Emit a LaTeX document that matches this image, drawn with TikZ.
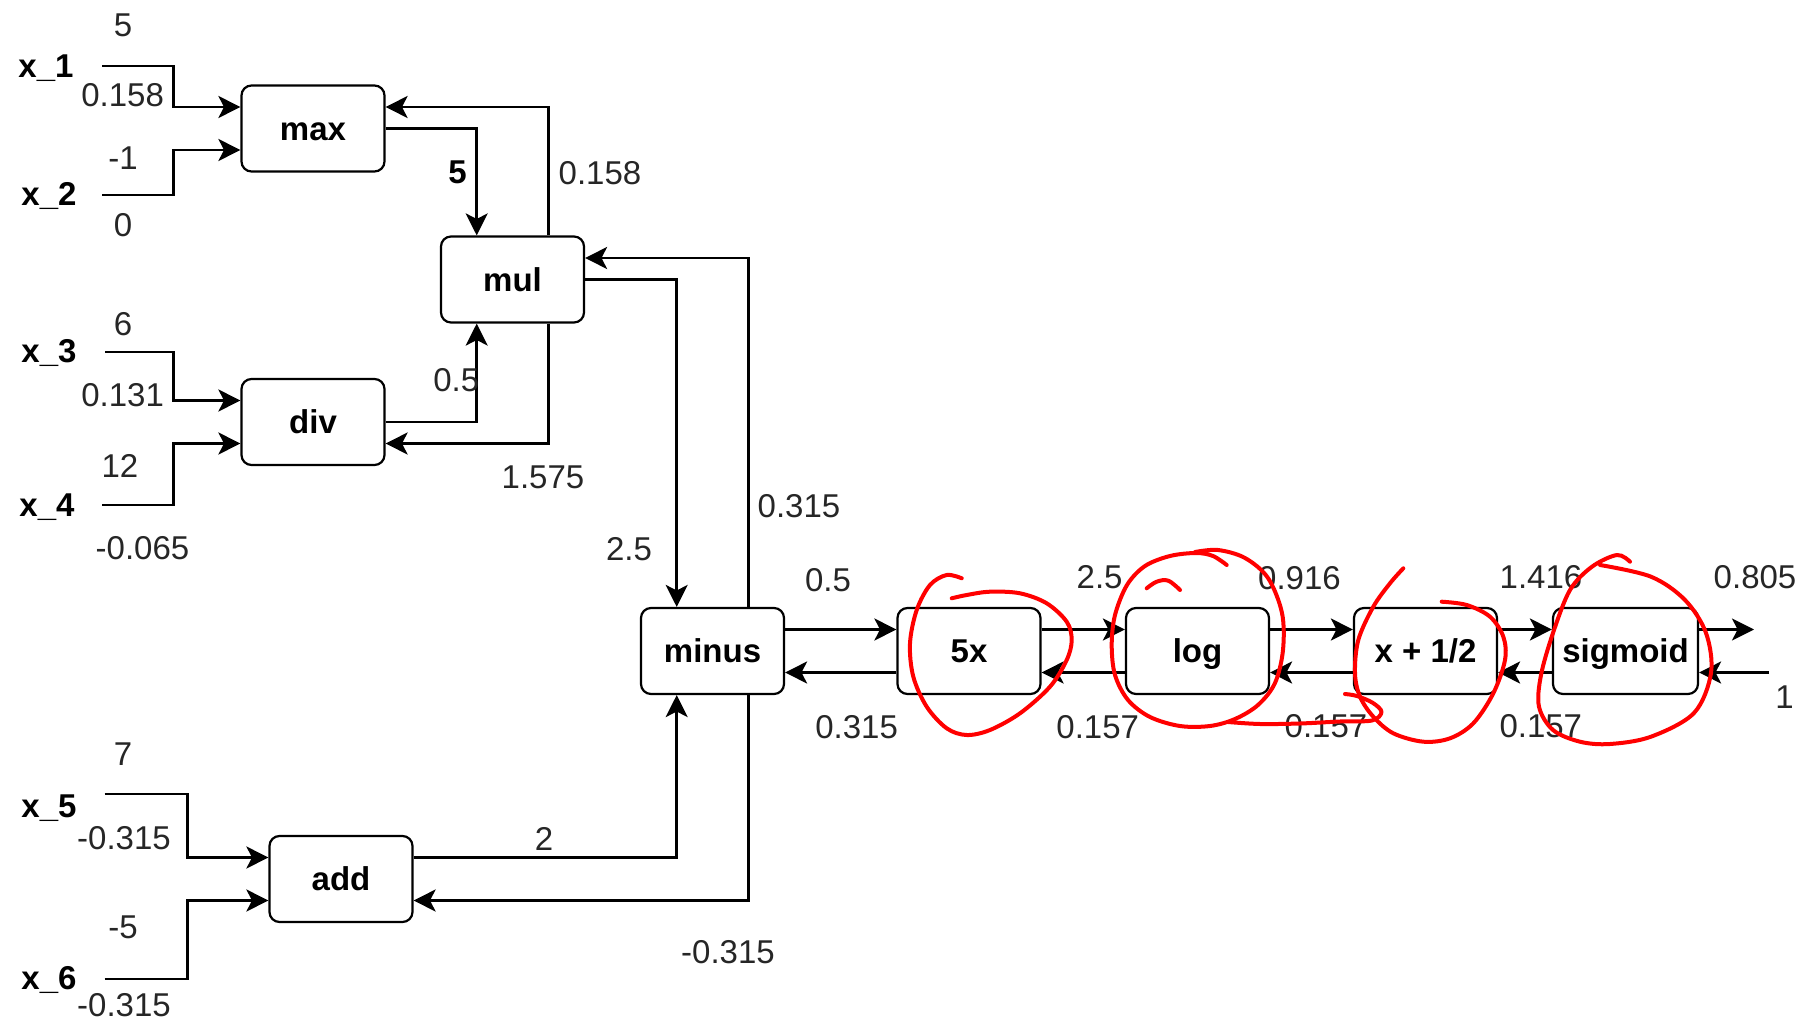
\documentclass[tikz,border=0pt]{standalone}
\usepackage{fontspec}
\setmainfont{Liberation Sans}
\usetikzlibrary{arrows.meta,calc}
\begin{document}
\begin{tikzpicture}[x=0.5pt,y=-0.5pt,
  box/.style={draw, line width=1.1pt, rounded corners=5pt, minimum width=71.5pt, minimum height=43pt, inner sep=0pt, text height=11.8pt, text depth=0pt, font=\fontsize{16.5pt}{19.8pt}\selectfont\bfseries},
  num/.style={inner sep=0pt, text height=11.8pt, text depth=0pt, font=\fontsize{16.5pt}{19.8pt}\selectfont, text=black!85},
  var/.style={inner sep=0pt, text height=11.8pt, text depth=0pt, font=\fontsize{16.5pt}{19.8pt}\selectfont\bfseries, text=black},
  conn/.style={line width=1.3pt, -{Stealth[length=11pt,width=11pt,inset=2.8pt]}},
  ink/.style={red, line width=2pt, line cap=round, line join=round}
]
\useasboundingbox (0,0) rectangle (1816,1022);

% boxes
\node[box] (max) at (313,128.5) {max};
\node[box] (mul) at (512.5,279.5) {mul};
\node[box] (div) at (313,422) {div};
\node[box] (minus) at (712.5,651) {minus};
\node[box] (add) at (341,879) {add};
\node[box] (fivex) at (969,651) {5x};
\node[box] (log) at (1197.5,651) {log};
\node[box] (xhalf) at (1425.5,651) {x + 1/2};
\node[box, minimum width=72.5pt] (sig) at (1625.5,651) {sigmoid};

% input variables
\node[var] (vx1) at (46,66) {x\_1};
\node[var] (vx2) at (49,194) {x\_2};
\node[var] (vx3) at (49,351) {x\_3};
\node[var] (vx4) at (47,505) {x\_4};
\node[var] (vx5) at (49,806) {x\_5};
\node[var] (vx6) at (49,978) {x\_6};

\coordinate (s1) at (102,66);
\coordinate (s2) at (102,195);
\coordinate (s3) at (105,352);
\coordinate (s4) at (102,505);
\coordinate (s5) at (104.5,794);
\coordinate (s6) at (104.5,979);
\coordinate (out) at (1754,629.5);
\coordinate (inp) at (1769,672.5);

% input connectors
\draw[conn] (s1) -- ++(71.5,0) |- ([yshift=10.75pt]max.west);
\draw[conn] (s2) -- ++(71.5,0) |- ([yshift=-10.75pt]max.west);
\draw[conn] (s3) -- ++(68.5,0) |- ([yshift=10.75pt]div.west);
\draw[conn] (s4) -- ++(71.5,0) |- ([yshift=-10.75pt]div.west);
\draw[conn] (s5) -- ++(83,0) |- ([yshift=10.75pt]add.west);
\draw[conn] (s6) -- ++(83,0) |- ([yshift=-10.75pt]add.west);

% upper network
\draw[conn] (max.east) -| ([xshift=-17.9pt]mul.north);
\draw[conn] ([xshift=17.9pt]mul.north) |- ([yshift=10.75pt]max.east);
\draw[conn] (div.east) -| ([xshift=-17.9pt]mul.south);
\draw[conn] ([xshift=17.9pt]mul.south) |- ([yshift=-10.75pt]div.east);
\draw[conn] (mul.east) -| ([xshift=-17.9pt]minus.north);
\draw[conn] ([xshift=17.9pt]minus.north) |- ([yshift=10.75pt]mul.east);
\draw[conn] ([yshift=10.75pt]add.east) -| ([xshift=-17.9pt]minus.south);
\draw[conn] ([xshift=17.9pt]minus.south) |- ([yshift=-10.75pt]add.east);

% chain
\draw[conn] ([yshift=10.75pt]minus.east) -- ([yshift=10.75pt]fivex.west);
\draw[conn] ([yshift=-10.75pt]fivex.west) -- ([yshift=-10.75pt]minus.east);
\draw[conn] ([yshift=10.75pt]fivex.east) -- ([yshift=10.75pt]log.west);
\draw[conn] ([yshift=-10.75pt]log.west) -- ([yshift=-10.75pt]fivex.east);
\draw[conn] ([yshift=10.75pt]log.east) -- ([yshift=10.75pt]xhalf.west);
\draw[conn] ([yshift=-10.75pt]xhalf.west) -- ([yshift=-10.75pt]log.east);
\draw[conn] ([yshift=10.75pt]xhalf.east) -- ([yshift=10.75pt]sig.west);
\draw[conn] ([yshift=-10.75pt]sig.west) -- ([yshift=-10.75pt]xhalf.east);
\draw[conn] ([yshift=10.75pt]sig.east) -- (out);
\draw[conn] (inp) -- ([yshift=-10.75pt]sig.east);

% numeric labels
\node[num] (n1) at (123,25) {5};
\node[num] (n2) at (122.6,95) {0.158};
\node[num] (n3) at (123,158) {-1};
\node[num] (n4) at (123,225) {0};
\node[num] (n5) at (123,324) {6};
\node[num] (n6) at (122.6,395) {0.131};
\node[num] (n7) at (120,466) {12};
\node[num] (n8) at (142.5,548) {-0.065};
\node[var] (n9) at (457.5,172) {5};
\node[num] (n10) at (600,172.5) {0.158};
\node[num] (n11) at (456.3,380) {0.5};
\node[num] (n12) at (543,477) {1.575};
\node[num] (n13) at (629,549) {2.5};
\node[num] (n14) at (799,506) {0.315};
\node[num] (n15) at (828,580) {0.5};
\node[num] (n16) at (856.6,726.4) {0.315};
\node[num] (n17) at (1099.6,577) {2.5};
\node[num] (n18) at (1097.7,726.4) {0.157};
\node[num] (n19) at (1299.5,577.5) {0.916};
\node[num] (n20) at (1326,726) {0.157};
\node[num] (n21) at (1541,577) {1.416};
\node[num] (n22) at (1540.8,726) {0.157};
\node[num] (n23) at (1755,577) {0.805};
\node[num] (n24) at (1784.5,697) {1};
\node[num] (n25) at (123,754) {7};
\node[num] (n26) at (124,837.3) {-0.315};
\node[num] (n27) at (544,838.3) {2};
\node[num] (n28) at (123,926.7) {-5};
\node[num] (n29) at (728,951.7) {-0.315};
\node[num] (n30) at (124,1005) {-0.315};

% red hand-drawn annotations
\draw[ink] plot[smooth, tension=0.55] coordinates {(961.7,578.3) (946.7,575) (930,585) (916.7,610) (910,643.3) (913.3,676.7) (926.7,706.7) (946.7,728.3) (966.7,735) (990,730) (1020,713.3) (1050,686.7) (1066.7,660) (1071.7,640) (1066.7,621.7) (1046.7,603.3) (1020,593.3) (990,591.7) (966.7,595) (951.7,598.3)};
\draw[ink] plot[smooth, tension=0.55] coordinates {(1226.7,565) (1213,556) (1196,553) (1170,556) (1145,566) (1127,585) (1115,615) (1111.7,645) (1115,675) (1128,700) (1150,717) (1180,726) (1210,726) (1235,719) (1258,705) (1275,683) (1283,650) (1282,613) (1268,578) (1245,558) (1218,550) (1195,552)};
\draw[ink] plot[smooth, tension=0.6] coordinates {(1146.7,588.3) (1156.7,581.7) (1168.3,580.7) (1180,590)};
\draw[ink] plot[smooth, tension=0.55] coordinates {(1228,722) (1260,724) (1300,723.5) (1340,721.5) (1372,720.5) (1381.5,712) (1373,703) (1357,696) (1345,694)};
\draw[ink] plot[smooth, tension=0.55] coordinates {(1403.3,568.3) (1390,583.3) (1373.3,606.7) (1358.3,640) (1355,673.3) (1360,696.7) (1373.3,716.7) (1393.3,733.3) (1423.3,741.7) (1450,738.3) (1473.3,723.3) (1493.3,693.3) (1505,660) (1503.3,636.7) (1490,616.7) (1466.7,605) (1441.7,601.7)};
\draw[ink] plot[smooth, tension=0.55] coordinates {(1630,561.7) (1617,555) (1592,566.7) (1570,590) (1553,633) (1541,675) (1539,706.7) (1553,730) (1580,741.7) (1610,744) (1651,736.7) (1694,713) (1711,673) (1706,633) (1685,600) (1651,576.7) (1600,565)};
\end{tikzpicture}
\end{document}
